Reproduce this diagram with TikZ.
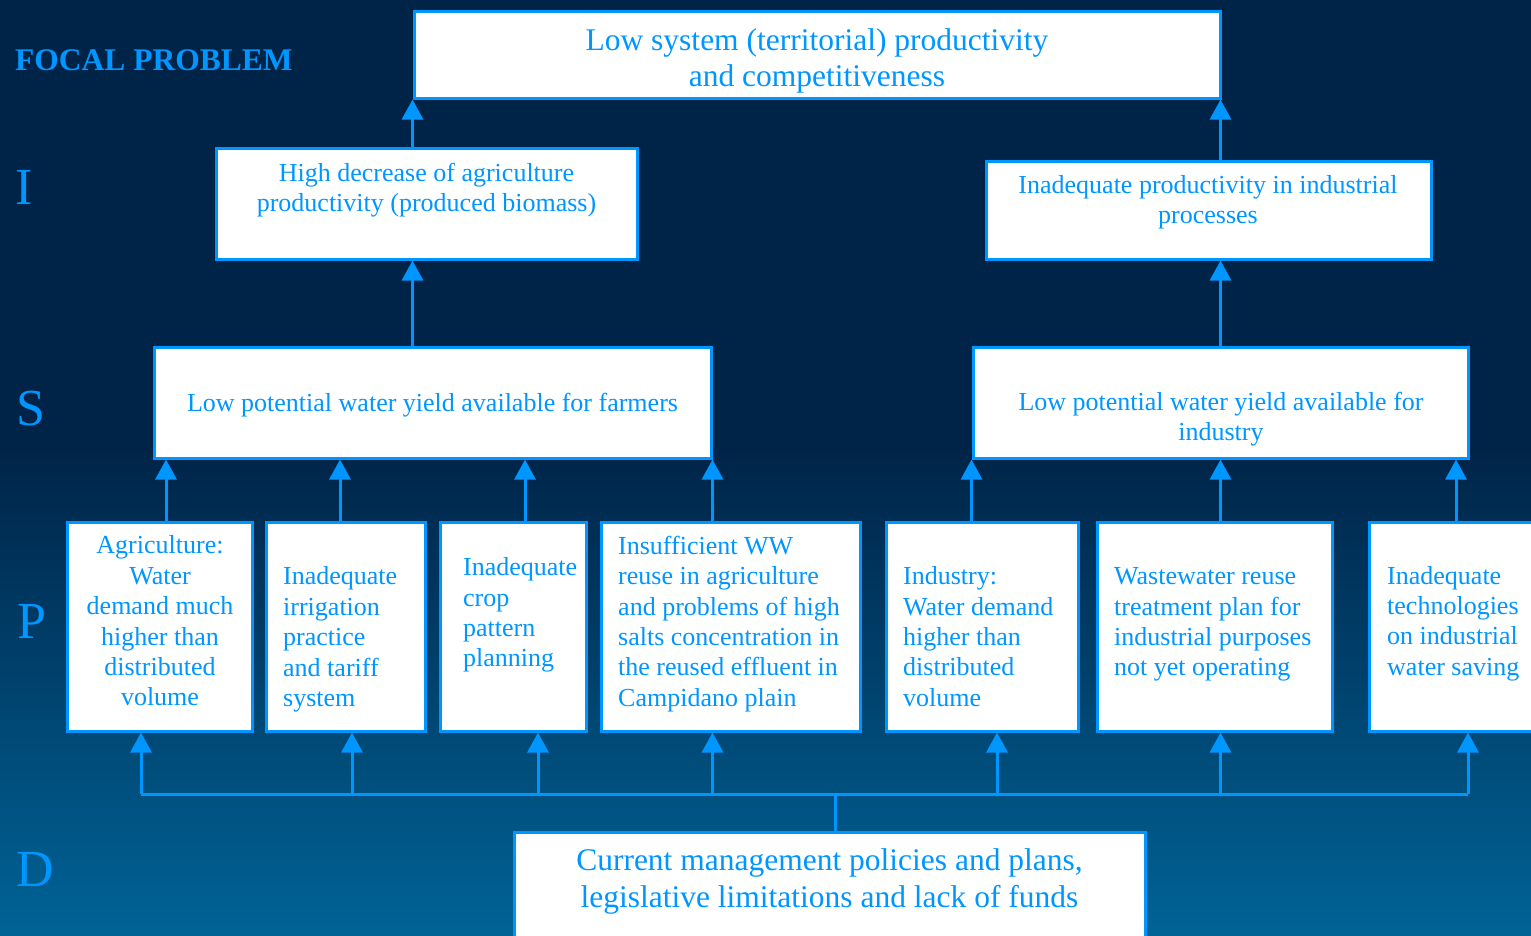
\documentclass[tikz,border=0pt]{standalone}
\usepackage{fontspec}
\setmainfont{Liberation Serif}
\usetikzlibrary{arrows.meta}
\definecolor{bgtop}{RGB}{0,36,72}
\definecolor{bgbot}{RGB}{0,99,150}
\definecolor{lblue}{RGB}{0,150,255}
\tikzset{
	box/.style={draw=lblue,fill=white,line width=3pt,inner sep=0pt},
	txt/.style={text=lblue,inner sep=0pt,font=\fontsize{26}{30.4}\selectfont},
	side/.style={text=lblue,inner sep=0pt,anchor=west,font=\fontsize{52}{60}\selectfont},
	arr/.style={draw=lblue,line width=3pt,-{Triangle[width=21pt,length=20pt]}},
	lnk/.style={draw=lblue,line width=3pt}
}
\begin{document}
\begin{tikzpicture}[x=1pt,y=-1pt]
	\useasboundingbox (0,0) rectangle (1531,935);
	\clip (0,0) rectangle (1531,935);
	\fill[bgtop] (0,0) rectangle (1531,935);
	\shade[top color=bgtop,bottom color=bgbot] (0,450) rectangle (1531,935);

	\node[txt,anchor=west,font=\bfseries\fontsize{31.5}{36}\selectfont] (focal) at (15,60) {FOCAL PROBLEM};
	\node[side] (li) at (15,187) {I};
	\node[side] (ls) at (16,409) {S};
	\node[side] (lp) at (17,621) {P};
	\node[side] (ld) at (16,869.5) {D};

	\node[box,minimum width=806pt,minimum height=87pt] (top) at (817,54.5) {};
	\node[box,minimum width=421pt,minimum height=111pt] (il) at (426.5,203.5) {};
	\node[box,minimum width=445pt,minimum height=98pt] (ir) at (1208.5,210) {};
	\node[box,minimum width=557pt,minimum height=111pt] (sl) at (432.5,402.5) {};
	\node[box,minimum width=495pt,minimum height=111pt] (sr) at (1220.5,402.5) {};
	\node[box,minimum width=185pt,minimum height=209pt] (p1) at (159.5,626.5) {};
	\node[box,minimum width=159pt,minimum height=209pt] (p2) at (345.5,626.5) {};
	\node[box,minimum width=146pt,minimum height=209pt] (p3) at (513,626.5) {};
	\node[box,minimum width=259pt,minimum height=209pt] (p4) at (730.5,626.5) {};
	\node[box,minimum width=192pt,minimum height=209pt] (p5) at (982,626.5) {};
	\node[box,minimum width=235pt,minimum height=209pt] (p6) at (1214.5,626.5) {};
	\node[box,minimum width=190pt,minimum height=209pt] (p7) at (1464,626.5) {};
	\node[box,minimum width=631pt,minimum height=147pt] (d) at (829.5,905.5) {};

	\node[txt,align=center,font=\fontsize{31.5}{36}\selectfont] (toptxt) at (817,61) {Low system (territorial) productivity\\and competitiveness};
	\node[txt,align=center] (iltxt) at (426.5,190) {High decrease of agriculture\\productivity (produced biomass)};
	\node[txt,align=center] (irtxt) at (1208,202.5) {Inadequate productivity in industrial\\processes};
	\node[txt,align=center] (sltxt) at (432.5,405) {Low potential water yield available for farmers};
	\node[txt,align=center] (srtxt) at (1221,419) {Low potential water yield available for\\industry};
	\node[txt,align=center] (p1txt) at (160,621) {Agriculture:\\Water\\demand much\\higher than\\distributed\\volume};
	\node[txt,align=left,anchor=west] (p2txt) at (283,639.5) {Inadequate\\irrigation\\practice\\and tariff\\system};
	\node[txt,align=left,anchor=west] (p3txt) at (463,615) {Inadequate\\crop\\pattern\\planning};
	\node[txt,align=left,anchor=west] (p4txt) at (618,624) {Insufficient WW\\reuse in agriculture\\and problems of high\\salts concentration in\\the reused effluent in\\Campidano plain};
	\node[txt,align=left,anchor=west] (p5txt) at (903,636.5) {Industry:\\Water demand\\higher than\\distributed\\volume};
	\node[txt,align=left,anchor=west] (p6txt) at (1114,624.5) {Wastewater reuse\\treatment plan for\\industrial purposes\\not yet operating};
	\node[txt,align=left,anchor=west] (p7txt) at (1387,623.5) {Inadequate\\technologies\\on industrial\\water saving};
	\node[txt,align=center,font=\fontsize{31.5}{37}\selectfont] (dtxt) at (829.5,881.5) {Current management policies and plans,\\legislative limitations and lack of funds};

	\draw[arr] (il.north -| top.south west) -- (top.south west);
	\draw[arr] (ir.north -| sr.north) -- (top.south -| sr.north);
	\draw[arr] (sl.north -| top.south west) -- (il.south -| top.south west);
	\draw[arr] (sr.north) -- (ir.south -| sr.north);

	\draw[arr] ([xshift=6.5pt]p1.north) -- ([xshift=6.5pt]p1.north |- sl.south);
	\draw[arr] ([xshift=-5.5pt]p2.north) -- ([xshift=-5.5pt]p2.north |- sl.south);
	\draw[arr] ([xshift=12pt]p3.north) -- ([xshift=12pt]p3.north |- sl.south);
	\draw[arr] (p4.north -| sl.south east) -- (sl.south east);
	\draw[arr] (p5.north -| sr.south west) -- (sr.south west);
	\draw[arr] (p6.north -| sr.south) -- (sr.south);
	\draw[arr] ([xshift=-8pt]p7.north) -- ([xshift=-8pt]p7.north |- sr.south);

	\coordinate (bus) at (835,794);
	\draw[lnk] (d.north -| bus) -- (bus);
	\draw[lnk] ([xshift=-18.5pt]p1.south |- bus) -- ([xshift=4pt]p7.south |- bus);
	\draw[arr] ([xshift=-18.5pt]p1.south |- bus) -- ([xshift=-18.5pt]p1.south);
	\draw[arr] ([xshift=6.5pt]p2.south |- bus) -- ([xshift=6.5pt]p2.south);
	\draw[arr] ([xshift=25pt]p3.south |- bus) -- ([xshift=25pt]p3.south);
	\draw[arr] (bus -| sl.south east) -- (p4.south -| sl.south east);
	\draw[arr] ([xshift=15pt]p5.south |- bus) -- ([xshift=15pt]p5.south);
	\draw[arr] (bus -| sr.south) -- (p6.south -| sr.south);
	\draw[arr] ([xshift=4pt]p7.south |- bus) -- ([xshift=4pt]p7.south);
\end{tikzpicture}
\end{document}
